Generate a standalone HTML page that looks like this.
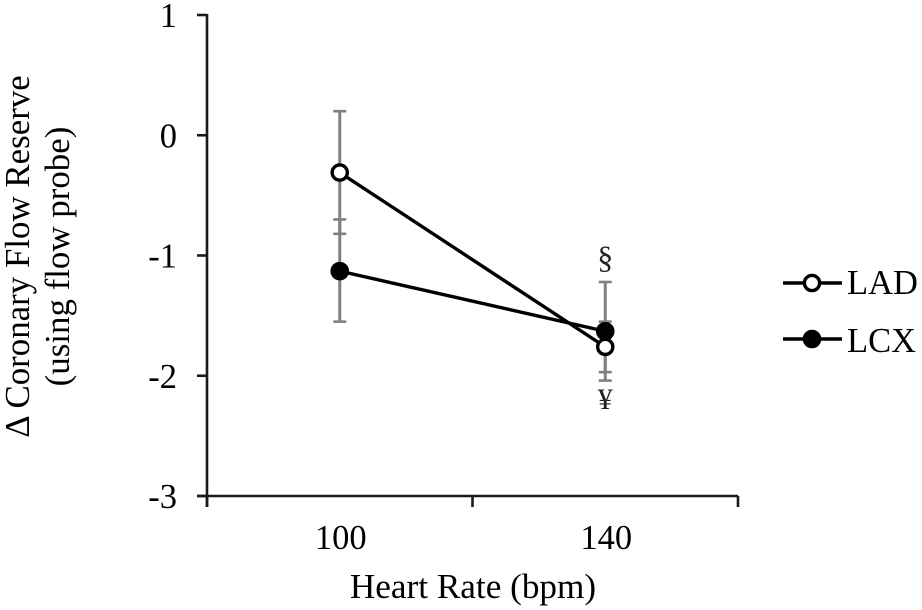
<!DOCTYPE html>
<html lang="en">
<head>
<meta charset="utf-8">
<title>Change in Coronary Flow Reserve vs Heart Rate</title>
<style>
html,body{margin:0;padding:0;background:#fff;}
body{width:922px;height:610px;overflow:hidden;}
svg{display:block;filter:blur(0.35px);}
text{font-family:"Liberation Serif",serif;fill:#000;}
</style>
</head>
<body>
<svg id="chart" width="922" height="610" viewBox="0 0 922 610" xmlns="http://www.w3.org/2000/svg"></svg>
<script>
const categories = ['100', '140'];
const yTickValues = [1, 0, -1, -2, -3];
const ladValues = [-0.31, -1.76];
const ladUpper = [0.2, -1.22];
const ladLower = [-0.82, -2.04];
const lcxValues = [-1.13, -1.63];
const lcxUpper = [-0.70, -1.55];
const lcxLower = [-1.55, -1.97];

const svg = document.getElementById('chart');
const NS = 'http://www.w3.org/2000/svg';
const yMin = -3, yMax = 1;
const plotLeft = 207, plotRight = 738, plotTop = 15, plotBottom = 496;

function yScale(v) {
  return plotTop + (yMax - v) / (yMax - yMin) * (plotBottom - plotTop);
}
function xScale(i) {
  return plotLeft + (i + 0.5) * (plotRight - plotLeft) / categories.length;
}
function make(tag, attrs, text) {
  const el = document.createElementNS(NS, tag);
  for (const k in attrs) el.setAttribute(k, attrs[k]);
  if (text !== undefined) el.textContent = text;
  svg.appendChild(el);
  return el;
}
function line(x1, y1, x2, y2, color, width) {
  return make('line', {x1: x1, y1: y1, x2: x2, y2: y2, stroke: color, 'stroke-width': width});
}

// y axis
let el = line(plotLeft, plotTop - 1, plotLeft, plotBottom + 11, '#1a1a1a', 2.6);


yTickValues.forEach(function (v) {
  const y = yScale(v);
  const t = line(plotLeft - 10, y, plotLeft, y, '#1a1a1a', 2.6);
  
  
  const lab = make('text', {x: 177, y: y + 12, 'text-anchor': 'end', 'font-size': 34.5}, String(v));
  
  
});

// x axis
el = line(plotLeft - 10, plotBottom, plotRight, plotBottom, '#1a1a1a', 2.6);


for (let i = 0; i <= categories.length; i++) {
  const x = plotLeft + i * (plotRight - plotLeft) / categories.length;
  const t = line(x, plotBottom, x, plotBottom + 11, '#1a1a1a', 2.6);
  
  
}
categories.forEach(function (c, i) {
  const lab = make('text', {x: xScale(i) + 1, y: 549, 'text-anchor': 'middle', 'font-size': 34.5}, c);
  
  
});

// axis titles
el = make('text', {x: 473, y: 598, 'text-anchor': 'middle', 'font-size': 35.2}, 'Heart Rate (bpm)');


el = make('text', {transform: 'translate(29 256.5) rotate(-90)', 'text-anchor': 'middle', 'font-size': 34.9}, 'Δ Coronary Flow Reserve');


el = make('text', {transform: 'translate(69 256.5) rotate(-90)', 'text-anchor': 'middle', 'font-size': 34.9}, '(using flow probe)');



// error bars
function errorBars(upper, lower, name) {
  upper.forEach(function (u, i) {
    const x = xScale(i);
    const stem = line(x, yScale(u), x, yScale(lower[i]), '#808080', 3);
    
    
    [u, lower[i]].forEach(function (v) {
      const cap = line(x - 6.5, yScale(v), x + 6.5, yScale(v), '#808080', 2.6);
      
      
    });
  });
}
errorBars(ladUpper, ladLower, 'lad');
errorBars(lcxUpper, lcxLower, 'lcx');

// series
function series(values, name, fill) {
  const pts = values.map(function (v, i) { return xScale(i) + ',' + yScale(v); }).join(' ');
  const pl = make('polyline', {points: pts, fill: 'none', stroke: '#000', 'stroke-width': 3.4});
  
  
  values.forEach(function (v, i) {
    const c = make('circle', {cx: xScale(i), cy: yScale(v), r: 7.6, fill: fill, stroke: '#000', 'stroke-width': 3.4});
    
    
  });
}
series(lcxValues, 'lcx', '#000');
series(ladValues, 'lad', '#fff');

// significance marks
el = make('text', {x: xScale(1), y: 268, 'text-anchor': 'middle', 'font-size': 32, style: 'fill:#222'}, '§');


el = make('text', {x: xScale(1), y: 409, 'text-anchor': 'middle', 'font-size': 30, style: 'fill:#222'}, '¥');



// legend
function legendEntry(label, y, baseline, fill, name) {
  const l = line(783, y, 842, y, '#000', 3.4);
  
  
  const c = make('circle', {cx: 812, cy: y, r: 7.6, fill: fill, stroke: '#000', 'stroke-width': 3.4});
  
  
  const t = make('text', {x: 847, y: baseline, 'font-size': 34.5}, label);
  
  
}
legendEntry('LAD', 283, 294, '#fff', 'lad');
legendEntry('LCX', 339, 352, '#000', 'lcx');
</script>
</body>
</html>
